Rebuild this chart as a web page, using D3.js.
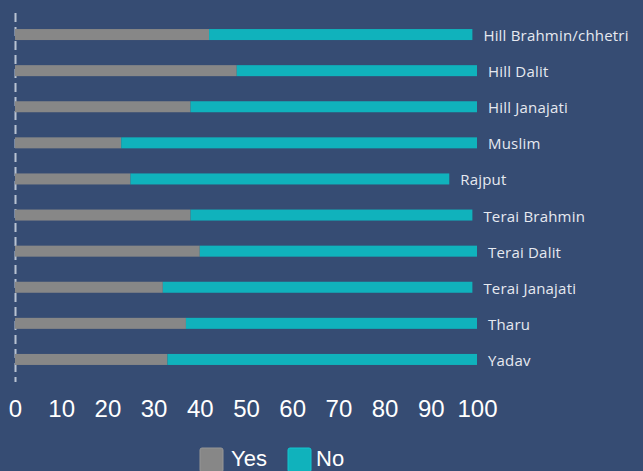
<!DOCTYPE html>
<html>
<head>
<meta charset="utf-8">
<script src="https://cdn.jsdelivr.net/npm/d3@7"></script>
<style>
  html, body { margin: 0; padding: 0; background: #364c73; }
  svg { display: block; }
</style>
</head>
<body>
<svg id="chart" width="643" height="471"></svg>
<script>
// Groups and the share answering Yes / No (percent)
const groups = ["Hill Brahmin/chhetri", "Hill Dalit", "Hill Janajati", "Muslim", "Rajput",
                "Terai Brahmin", "Terai Dalit", "Terai Janajati", "Tharu", "Yadav"];
const yesValues = [42, 48, 38, 23, 25, 38, 40, 32, 37, 33];
const noValues  = [57, 52, 62, 77, 69, 61, 60, 67, 63, 67];
const seriesNames = ["Yes", "No"];
const xTicks = [0, 10, 20, 30, 40, 50, 60, 70, 80, 90, 100];

const colors = { Yes: "#878787", No: "#10b2bc" };

const svg = d3.select("#chart");
const W = 643, H = 471;

svg.append("rect").attr("width", W).attr("height", H).attr("fill", "#364c73");

const x = d3.scaleLinear().domain([0, 100]).range([15, 477]);
const y = d3.scaleBand().domain(groups).range([16.5, 377.5])
  .paddingInner(0.695).paddingOuter(0.3475);

const rows = groups.map((g, i) => ({ group: g, Yes: yesValues[i], No: noValues[i] }));
const stacked = d3.stack().keys(seriesNames)(rows);

// dashed baseline at zero
svg.append("line")
  .attr("x1", x(0) + 0.5).attr("x2", x(0) + 0.5)
  .attr("y1", 13).attr("y2", 382)
  .attr("stroke", "#b9c3d3").attr("stroke-width", 2)
  .attr("stroke-dasharray", "9,5");

// stacked bars
svg.append("g").selectAll("g")
  .data(stacked).join("g")
  .attr("fill", d => colors[d.key])
  .selectAll("rect")
  .data(d => d).join("rect")
  .attr("x", d => x(d[0]))
  .attr("y", d => y(d.data.group))
  .attr("width", d => x(d[1]) - x(d[0]))
  .attr("height", y.bandwidth());

// group labels to the right of each bar
svg.append("g").selectAll("text")
  .data(rows).join("text")
  .attr("x", d => x(d.Yes + d.No) + 11)
  .attr("y", d => y(d.group) + y.bandwidth() / 2 + 6.5)
  .attr("fill", "#e6e9f0")
  .attr("font-family", "'Open Sans', sans-serif")
  .attr("font-size", 15)
  .attr("letter-spacing", 0.2)
  .text(d => d.group);

// x axis (labels only)
const xAxis = d3.axisBottom(x).tickValues(xTicks).tickSize(0).tickPadding(0)
  .tickFormat(d3.format("d"));
const gx = svg.append("g").attr("transform", "translate(0,400)").call(xAxis);
gx.select(".domain").remove();
gx.selectAll("text")
  .attr("dy", "0.71em")
  .attr("fill", "#ffffff")
  .attr("font-family", "'Liberation Sans', Arial, sans-serif")
  .attr("font-size", 24);

// legend
const legendItems = [
  { key: "Yes", sx: 200, tx: 231 },
  { key: "No", sx: 288, tx: 316 }
];
const lg = svg.append("g");
lg.selectAll("rect").data(legendItems).join("rect")
  .attr("x", d => d.sx).attr("y", 448)
  .attr("width", 23).attr("height", 24)
  .attr("rx", 2)
  .attr("fill", d => colors[d.key])
  .attr("stroke", d => d3.color(colors[d.key]).brighter(0.3))
  .attr("stroke-width", 1);
lg.selectAll("text").data(legendItems).join("text")
  .attr("x", d => d.tx).attr("y", 466)
  .attr("fill", "#ffffff")
  .attr("font-family", "'Liberation Sans', Arial, sans-serif")
  .attr("font-size", 22)
  .text(d => d.key);
</script>
</body>
</html>
